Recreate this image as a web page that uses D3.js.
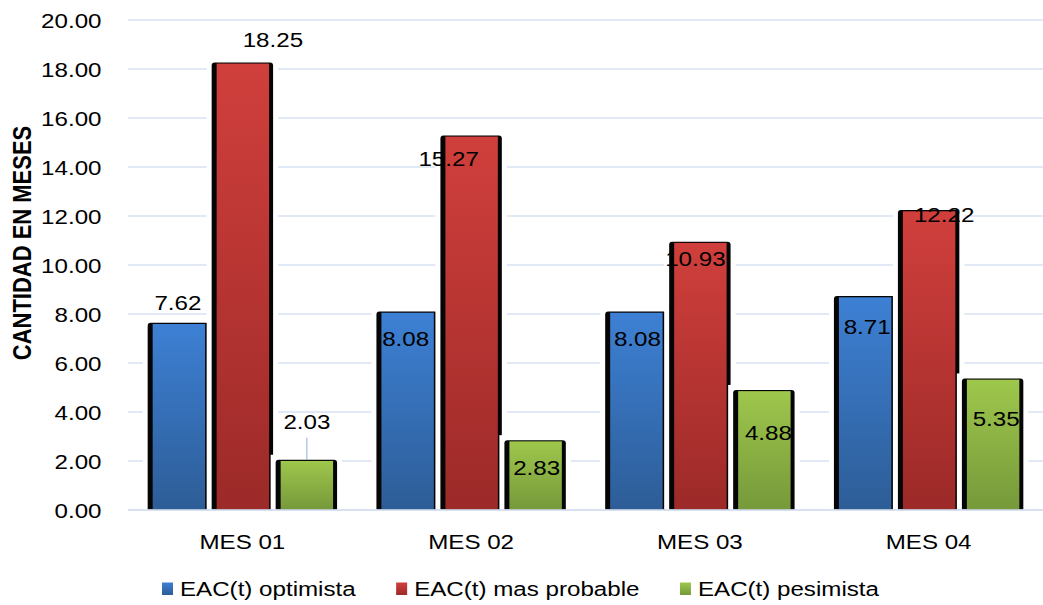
<!DOCTYPE html>
<html><head><meta charset="utf-8">
<script src="https://cdn.jsdelivr.net/npm/d3@7/dist/d3.min.js"></script>
<style>
body{margin:0;background:#fff}
svg{display:block}
text{font-family:"Liberation Sans",Arial,sans-serif;fill:#000}
</style>
</head><body>
<svg id="c" width="1043" height="605"></svg>
<script>
// ---- data ----
const categories = ["MES 01", "MES 02", "MES 03", "MES 04"];
const seriesNames = ["EAC(t) optimista", "EAC(t) mas probable", "EAC(t) pesimista"];
const optimista = [7.62, 8.08, 8.08, 8.71];
const masProbable = [18.25, 15.27, 10.93, 12.22];
const pesimista = [2.03, 2.83, 4.88, 5.35];
const yTicks = [0, 2, 4, 6, 8, 10, 12, 14, 16, 18, 20];
const yTitle = "CANTIDAD EN MESES";

// ---- layout / style (not data) ----
const seriesValues = [optimista, masProbable, pesimista];
const gradColors = [["#3d80d4", "#2d5d97"], ["#d03f3c", "#9c2a28"], ["#9ec74c", "#76993a"]];
// label offsets in px relative to bar top / colored centre: [dx, dy, leader]
const labelOffsets = [
  [[-1, -20, 0], [-2, 26.5, 0], [1, 26.5, 0], [2, 30, 0]],
  [[30, -23, 0], [-23, 23.5, 0], [-5, 16.5, 0], [15, 4, 0]],
  [[0, -38, 1], [1, 27, 0], [4, 42, 0], [3, 40, 0]]
];
const SX = 1.15; // horizontal text stretch
const W = 1043, H = 605;
const plot = {left: 128, right: 1043, top: 19.5, bottom: 509.5};

const svg = d3.select("#c");
const defs = svg.append("defs");
gradColors.forEach((c, i) => {
  const g = defs.append("linearGradient").attr("id", "g" + i)
    .attr("x1", 0).attr("y1", 0).attr("x2", 0).attr("y2", 1);
  g.append("stop").attr("offset", "0%").attr("stop-color", c[0]);
  g.append("stop").attr("offset", "100%").attr("stop-color", c[1]);
});

const y = d3.scaleLinear().domain([0, 20]).range([plot.bottom, plot.top]);
const x0 = d3.scaleBand().domain(categories).range([plot.left, plot.right])
  .paddingInner(0.172).paddingOuter(0.086);
const x1 = d3.scaleBand().domain([0, 1, 2]).range([0, x0.bandwidth()])
  .paddingInner(0.04).paddingOuter(0);

// gridlines
const grid = svg.append("g").attr("transform", `translate(${plot.left},0)`)
  .call(d3.axisLeft(y).tickValues(yTicks).tickSize(-(plot.right - plot.left)).tickFormat(""));
grid.select(".domain").remove();
grid.selectAll("line").attr("stroke", "#d7e2f3").attr("stroke-width", 1.4);

// y tick labels
const yax = svg.append("g").attr("transform", `translate(${plot.left},0)`)
  .call(d3.axisLeft(y).tickValues(yTicks).tickSize(0).tickFormat(d3.format(".2f")));
yax.select(".domain").remove();
yax.selectAll("text")
  .attr("x", -26.5 / SX).attr("dy", "0.36em")
  .attr("transform", `scale(${SX},1)`)
  .style("font-size", "21px").style("font-family", '"Liberation Sans",Arial,sans-serif').attr("fill", "#000");

// bars
const inL = 5, inR = 4;
seriesValues.forEach((vals, s) => {
  const g = svg.append("g");
  const data = vals.map((v, i) => ({v, i, cat: categories[i]}));
  const bx = d => x0(d.cat) + x1(s);
  const bw = x1.bandwidth();
  // white halo
  g.selectAll(".halo").data(data).join("rect")
    .attr("x", d => bx(d) - 5).attr("y", d => y(d.v) - 5)
    .attr("width", bw + 10).attr("height", d => plot.bottom - y(d.v) + 5)
    .attr("fill", "#fff");
  // black shadow body with rounded top
  g.selectAll(".sh").data(data).join("path")
    .attr("d", d => {
      const xa = bx(d), xb = xa + bw, yt = y(d.v), r = 3, yb = plot.bottom;
      return `M${xa},${yb}V${yt + r}Q${xa},${yt} ${xa + r},${yt}H${xb - r}Q${xb},${yt} ${xb},${yt + r}V${yb}Z`;
    })
    .attr("fill", "#050505");
  // coloured face
  g.selectAll(".face").data(data).join("rect")
    .attr("x", d => bx(d) + inL).attr("y", d => y(d.v) + 1.2)
    .attr("width", bw - inL - inR).attr("height", d => plot.bottom - y(d.v) - 1.2)
    .attr("fill", `url(#g${s})`);
});

// x axis line
svg.append("line").attr("x1", plot.left).attr("x2", plot.right)
  .attr("y1", plot.bottom + 0.5).attr("y2", plot.bottom + 0.5)
  .attr("stroke", "#d3def0").attr("stroke-width", 1.6);

// value labels
const lab = svg.append("g");
seriesValues.forEach((vals, s) => {
  vals.forEach((v, i) => {
    const [dx, dy, leader] = labelOffsets[s][i];
    const cx = x0(categories[i]) + x1(s) + inL + (x1.bandwidth() - inL - inR) / 2 + dx;
    const cy = y(v) + dy;
    lab.append("text")
      .attr("transform", `translate(${cx},${cy}) scale(${SX},1)`)
      .attr("text-anchor", "middle").attr("dy", "0.36em")
      .style("font-size", "21px")
      .text(d3.format(".2f")(v));
    if (leader) {
      lab.append("line").attr("x1", cx).attr("x2", cx)
        .attr("y1", cy + 16).attr("y2", y(v))
        .attr("stroke", "#8fb2de").attr("stroke-width", 1);
    }
  });
});

// x axis labels
const xax = svg.append("g").attr("transform", `translate(0,${plot.bottom})`)
  .call(d3.axisBottom(x0).tickSize(0));
xax.select(".domain").remove();
xax.selectAll("text")
  .attr("y", 0).attr("dy", "0")
  .attr("transform", `translate(0,39) scale(${SX},1)`)
  .attr("x", 0)
  .style("font-size", "21px").style("font-family", '"Liberation Sans",Arial,sans-serif').attr("fill", "#000");
xax.selectAll(".tick").each(function() {
  const t = d3.select(this);
  const tr = t.attr("transform");
  const cx = +tr.match(/translate\(([-\d.]+)/)[1];
  t.attr("transform", "translate(0,0)");
  t.select("text").attr("transform", `translate(${cx},39) scale(${SX},1)`);
});

// y title
svg.append("text")
  .attr("transform", `translate(31,243) scale(${SX},1) rotate(-90)`)
  .attr("text-anchor", "middle")
  .style("font-size", "22px").style("font-weight", "bold")
  .text(yTitle);

// legend
const leg = svg.append("g");
let lx = 0;
const items = [];
seriesNames.forEach((n, s) => {
  const it = leg.append("g");
  it.append("rect").attr("x", 0).attr("y", -13.5).attr("width", 11).attr("height", 12.5)
    .attr("fill", `url(#g${s})`);
  const t = it.append("text").attr("transform", `translate(18,0) scale(${SX},1)`)
    .style("font-size", "21px").text(n);
  const w = 18 + t.node().getComputedTextLength() * SX;
  items.push({it, w});
});
const gap = 40.5;
const total = d3.sum(items, d => d.w) + gap * (items.length - 1);
let cur = 162;
items.forEach(d => { d.it.attr("transform", `translate(${cur},596)`); cur += d.w + gap; });
</script>
</body></html>
